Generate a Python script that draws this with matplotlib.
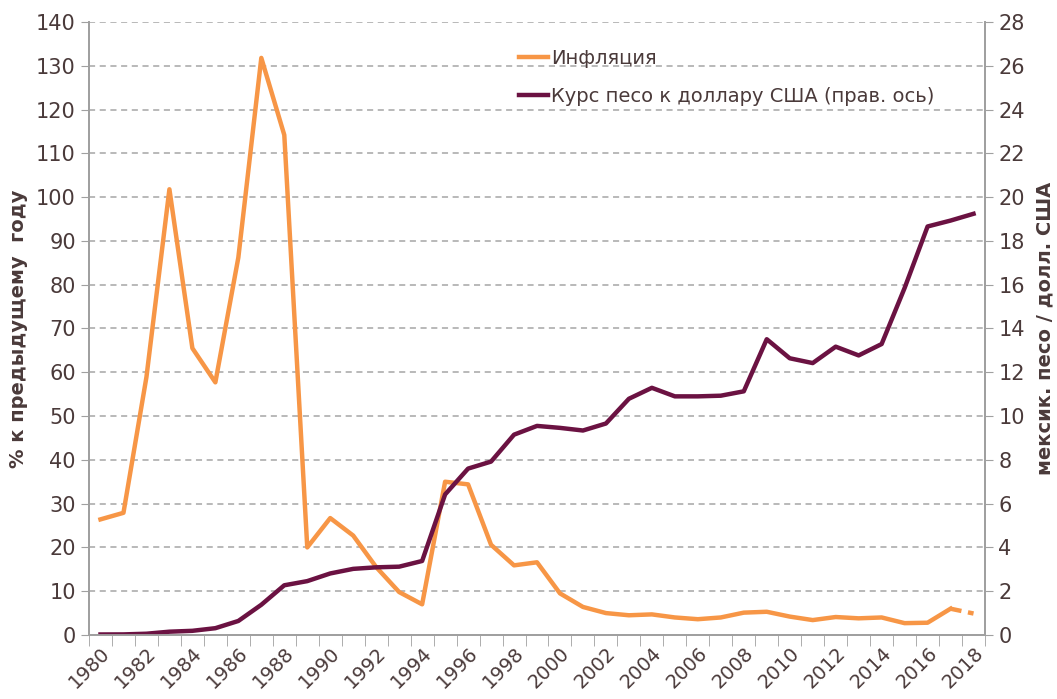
import matplotlib.pyplot as plt
import numpy as np

years = list(range(1980, 2019))
inflation = [26.4, 27.9, 58.9, 101.8, 65.5, 57.7, 86.2, 131.8, 114.2, 20.0,
             26.7, 22.7, 15.5, 9.8, 7.0, 35.0, 34.4, 20.6, 15.9, 16.6,
             9.5, 6.4, 5.0, 4.5, 4.7, 4.0, 3.6, 4.0, 5.1, 5.3,
             4.2, 3.4, 4.1, 3.8, 4.0, 2.7, 2.8, 6.0, 4.9]
peso_usd = [0.023, 0.026, 0.057, 0.15, 0.19, 0.31, 0.64, 1.38, 2.27, 2.46,
            2.81, 3.02, 3.09, 3.12, 3.38, 6.42, 7.60, 7.92, 9.15, 9.55,
            9.46, 9.34, 9.66, 10.79, 11.29, 10.90, 10.90, 10.93, 11.13, 13.51,
            12.64, 12.42, 13.17, 12.77, 13.29, 15.85, 18.66, 18.93, 19.24]

orange = '#F79646'
plum = '#6B1242'
txt = '#4A3A3A'
gray = '#A0A0A0'

plt.rcParams['font.family'] = ['DejaVu Sans']

fig = plt.figure(figsize=(10.57, 6.99), dpi=100)
ax = fig.add_axes([0.0842, 0.0916, 0.8477, 0.8769])
ax2 = ax.twinx()

x = np.arange(len(years))

# inflation: solid up to 2017, dashed estimate for 2018
ax.plot(x[:-1], inflation[:-1], color=orange, lw=3.2, label='Инфляция', zorder=3)
ax.plot(x[-2:], inflation[-2:], color=orange, lw=3.2, ls=(0, (2.5, 1.5)), zorder=3)
ax2.plot(x, peso_usd, color=plum, lw=3.2, label='Курс песо к доллару США (прав. ось)')

ax.set_xlim(-0.5, len(years) - 0.5)
ax.set_ylim(0, 140)
ax2.set_ylim(0, 28)
ax.set_yticks(np.arange(0, 141, 10))
ax2.set_yticks(np.arange(0, 29, 2))

ax.set_xticks(x[::2])
ax.set_xticklabels([str(y) for y in years[::2]], rotation=45, ha='right',
                   rotation_mode='anchor', fontsize=14, color=txt)
ax.set_xticks(np.arange(-0.5, len(years)), minor=True)
ax.tick_params(axis='x', which='major', length=0, pad=6)
ax.tick_params(axis='x', which='minor', length=8, color=gray)
ax.tick_params(axis='y', length=6, color=gray, labelsize=15, labelcolor=txt)
ax2.tick_params(axis='y', length=6, color=gray, labelsize=15, labelcolor=txt)

ax.grid(axis='y', color='#A6A6A6', ls=(0, (4, 3)), lw=1.1)
ax.set_axisbelow(True)

for a in (ax, ax2):
    a.spines['top'].set_visible(False)
    for s in ('left', 'right', 'bottom'):
        a.spines[s].set_color(gray)
        a.spines[s].set_linewidth(1.3)

ax.set_ylabel('% к предыдущему  году', fontsize=14, fontweight='bold', color=txt, labelpad=6)
ax2.set_ylabel('мексик. песо / долл. США', fontsize=14, fontweight='bold', color=txt, labelpad=8)

h1, l1 = ax.get_legend_handles_labels()
h2, l2 = ax2.get_legend_handles_labels()
ax2.legend(h1 + h2, l1 + l2, loc='upper left', bbox_to_anchor=(0.46, 0.985),
           frameon=False, fontsize=14, handlelength=1.5, handletextpad=0.15,
           labelspacing=1.0, labelcolor=txt)

fig.savefig('out.png', dpi=100)
